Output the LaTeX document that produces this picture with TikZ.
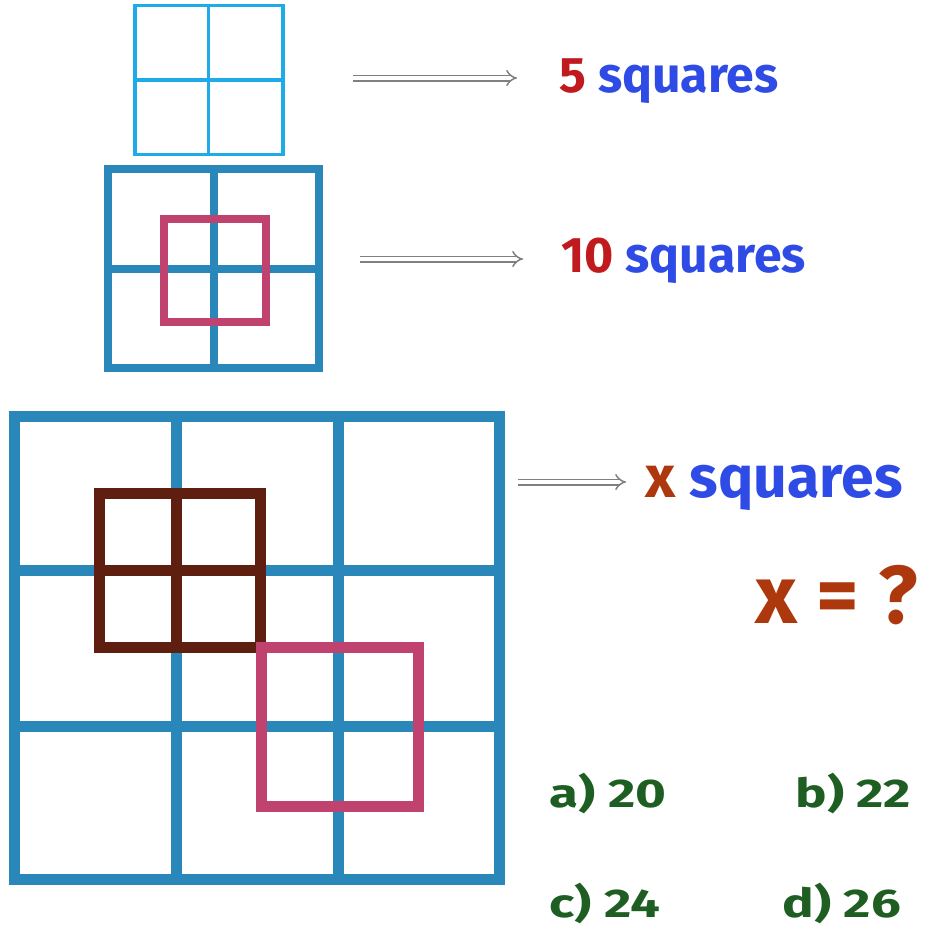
\documentclass[tikz,border=0pt]{standalone}
\usepackage{fontspec}
\setmainfont{Fira Sans}
\usetikzlibrary{arrows.meta}
\definecolor{lightgrid}{HTML}{1FAAE8}
\definecolor{gridblue}{HTML}{2A87BA}
\definecolor{pinksq}{HTML}{C0426E}
\definecolor{brownsq}{HTML}{5E1F10}
\definecolor{numred}{HTML}{C01A1E}
\definecolor{wordblue}{HTML}{2F4BE6}
\definecolor{xbrown}{HTML}{AE380E}
\definecolor{ansgreen}{HTML}{1E5E22}
\tikzset{every picture/.style={line width=0.75pt}}
\tikzset{
  arr/.style={double,double distance=4pt,draw=gray,line width=1.5pt,-{Implies[length=6pt,width=12pt]}},
  lab/.style={anchor=base west,inner sep=0pt,font=\bfseries\fontsize{50}{52}\selectfont},
  ans/.style={anchor=base west,inner sep=0pt,text=ansgreen,xscale=1.32,transform shape,font=\bfseries\fontsize{40}{42}\selectfont}
}
\begin{document}
\begin{tikzpicture}[x=1pt,y=-1pt]
				\useasboundingbox (0,0) rectangle (936,940);
				\draw[lightgrid,line width=3.5pt] (135,5.5) rectangle (283,154.5); %上の格子
				\draw[lightgrid,line width=3.5pt] (208.5,5.5)--(208.5,154.5) (135,80)--(283,80);
				\draw[gridblue,line width=8pt] (108,169) rectangle (319,368); %中の格子
				\draw[gridblue,line width=8pt] (214,169)--(214,368) (108,269)--(319,269);
				\draw[pinksq,line width=8pt] (164,219) rectangle (266,322);
				\draw[gridblue,line width=11pt] (14,416) rectangle (499,879); %下の格子
				\foreach \u in {176,338} \draw[gridblue,line width=11pt] (\u,416)--(\u,879);
				\foreach \v in {570,726} \draw[gridblue,line width=11pt] (14,\v)--(499,\v);
				\draw[brownsq,line width=11pt] (99,493) rectangle (260,647);
				\draw[brownsq,line width=11pt] (176,493)--(176,647) (99,570)--(260,570);
				\draw[pinksq,line width=11pt] (261,647) rectangle (418,806);
				\coordinate (s1) at (353,78); \coordinate (e1) at (517,78); %矢印
				\coordinate (s2) at (360,259); \coordinate (e2) at (523,259);
				\coordinate (s3) at (518,482); \coordinate (e3) at (626,482);
				\draw[arr] (s1)--(e1);
				\draw[arr] (s2)--(e2);
				\draw[arr] (s3)--(e3);
				\node[lab] (lab5) at (559,92) {\textcolor{numred}{5} \textcolor{wordblue}{squares}};
				\node[lab] (lab10) at (561,272) {\textcolor{numred}{10} \textcolor{wordblue}{squares}};
				\node[lab,font=\bfseries\fontsize{59}{61}\selectfont] (labx) at (645,497) {\textcolor{xbrown}{x} \textcolor{wordblue}{squares}};
				\node[lab,text=xbrown,font=\bfseries\fontsize{82}{84}\selectfont] (xq) at (755,623) {x = ?};
				\node[ans] (ansa) at (549,807) {a) 20};
				\node[ans] (ansb) at (795,807) {b) 22};
				\node[ans] (ansc) at (549,917) {c) 24};
				\node[ans] (ansd) at (782,917) {d) 26};
			\end{tikzpicture}
\end{document}
